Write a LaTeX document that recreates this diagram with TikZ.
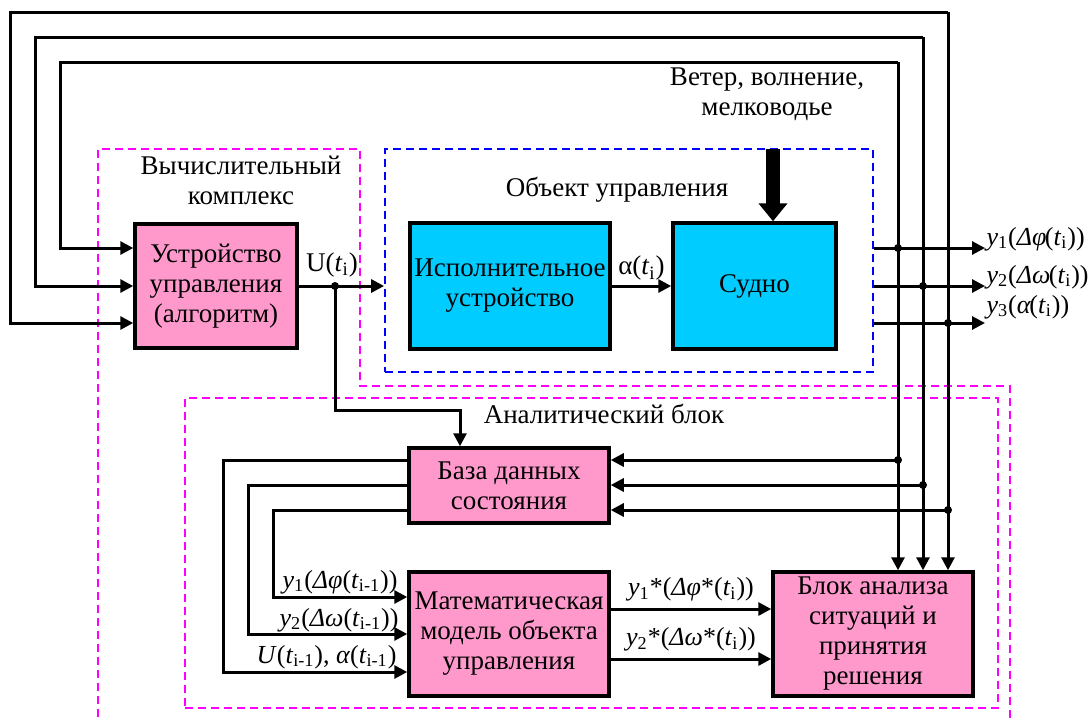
\documentclass[tikz,border=0pt]{standalone}
\usepackage{fontspec}
\setmainfont{Liberation Serif}
\usepackage{tikz}
\usetikzlibrary{arrows.meta, positioning, calc}
\definecolor{pinkblk}{HTML}{FF99CC}
\definecolor{cyanblk}{HTML}{00CCFF}
\definecolor{magfr}{HTML}{FF00FF}
\definecolor{bluefr}{HTML}{0000FF}
\newcommand{\yv}[1]{\textit{y}\textsubscript{#1}}
\newcommand{\tv}[1]{\textit{t}\textsubscript{#1}}

\begin{document}
\begin{tikzpicture}[x=0.5pt, y=-0.5pt, >={Triangle[length=6.5pt,width=6.5pt]},
  font=\fontsize{13.5}{15}\selectfont, line width=1.5pt,
  every node/.style={inner sep=1pt},
  pinkbox/.style={draw, line width=1.75pt, fill=pinkblk, align=center},
  cyanbox/.style={draw, line width=1.75pt, fill=cyanblk, align=center},
  bluefr/.style={draw=bluefr, line width=0.9pt, dash pattern=on 4pt off 2.5pt},
  magfr/.style={draw=magfr, line width=0.9pt, dash pattern=on 4pt off 2.5pt},
  siglbl/.style={font=\fontsize{13}{15}\selectfont}]
  \useasboundingbox (0,0) rectangle (1089,720);

  % frames
  \draw[magfr] (98,730) -- (98,149) -- (360,149) -- (360,386) -- (1010,386) -- (1010,730);
  \node[bluefr, minimum width=244pt, minimum height=111.5pt] (obj) at (629,260.5) {};
  \node[magfr, minimum width=406.5pt, minimum height=155pt] (ana) at (591.5,553) {};

  \node[align=center] (vklbl) at (241,180) {Вычислительный\\комплекс};
  \node (objlbl) at (617,190) {Объект управления};
  \node (analbl) at (604,414) {Аналитический блок};
  \node[align=center] (windlbl) at (767,94) {Ветер, волнение,\\мелководье};

  % blocks
  \node[pinkbox, minimum width=81pt, minimum height=62pt] (ctrl) at (216,286) {Устройство\\управления\\(алгоритм)};
  \node[cyanbox, minimum width=100pt, minimum height=63pt] (act) at (510,286) {Исполнительное\\устройство};
  \node[cyanbox, minimum width=81.5pt, minimum height=63pt] (ship) at (754.5,286) {Судно};
  \node[pinkbox, minimum width=100pt, minimum height=37.5pt] (db) at (509,485.5) {База данных\\состояния};
  \node[pinkbox, minimum width=100pt, minimum height=62pt] (model) at (509,634) {Математическая\\модель объекта\\управления};
  \node[pinkbox, minimum width=100pt, minimum height=62pt] (anl) at (873,634) {Блок анализа\\ситуаций и\\принятия\\решения};

  % disturbance
  \coordinate (w) at (773,149);
  \draw[line width=7pt, -{Triangle[length=9pt,width=14pt]}] (w) -- (w |- ship.north);

  % control signal
  \coordinate (u) at (335,286);
  \coordinate (ub) at (460,410);
  \draw[->] (ctrl.east) -- (ctrl.east -| obj.west);
  \node (ulbl) at (332,265) {U(\tv{i})};
  \draw[->] (u) |- (ub) -- (ub |- db.north);
  \draw[->] (act) -- (ship) node[midway, above=1pt] {α(\tv{i})};

  % outputs and feedback
  \coordinate (j1) at (898,248); \coordinate (j2) at (923,286); \coordinate (j3) at (948,323);
  \coordinate (t1) at (898,62);  \coordinate (t2) at (923,37);  \coordinate (t3) at (948,12);
  \coordinate (l1) at (60,248);  \coordinate (l2) at (35,286);  \coordinate (l3) at (10,323);
  \coordinate (k1) at (898,460); \coordinate (k2) at (923,485); \coordinate (k3) at (948,510);
  \coordinate (e1) at (985,248); \coordinate (e2) at (985,286); \coordinate (e3) at (985,323);
  \foreach \i in {1,2,3} {
    \draw[->] (obj.east |- j\i) -- (e\i);
    \draw[->] (t\i) -| (l\i) -- (l\i -| ctrl.west);
    \draw[->] (t\i) -- (t\i |- anl.north);
    \draw[->] (k\i) -- (k\i -| db.east);
  }
  \foreach \p in {u,j1,j2,j3,k1,k2,k3} \fill (\p) circle (2pt);
  \node[siglbl, anchor=base west, inner sep=0pt] (y1lbl) at (985,245) {\yv{1}(\textit{Δφ\kern-0.06em}(\tv{i}))};
  \node[siglbl, anchor=base west, inner sep=0pt] (y2lbl) at (985,283) {\yv{2}(\textit{Δω\kern-0.06em}(\tv{i}))};
  \node[siglbl, anchor=base west, inner sep=0pt] (y3lbl) at (985,313) {\yv{3}(\textit{α\kern-0.04em}(\tv{i}))};

  % database to model
  \coordinate (m1) at (273,597); \coordinate (m2) at (248,634); \coordinate (m3) at (223,672);
  \draw[->] ([yshift=-12.5pt]db.west) -| (m1) -- (m1 -| model.west);
  \draw[->] (db.west) -| (m2) -- (m2 -| model.west);
  \draw[->] ([yshift=12.5pt]db.west) -| (m3) -- (m3 -| model.west);
  \node[siglbl, anchor=base east] (m1lbl) at (401,588) {\yv{1}(\textit{Δφ}(\tv{i-1}))};
  \node[siglbl, anchor=base east] (m2lbl) at (402,626) {\yv{2}(\textit{Δω}(\tv{i-1}))};
  \node[siglbl, anchor=base east] (m3lbl) at (400,663) {\textit{U}(\tv{i-1}), \textit{α}(\tv{i-1})};

  % model to analysis
  \draw[->] ([yshift=12.5pt]model.east) -- ([yshift=12.5pt]anl.west)
    node[siglbl, midway, above=2pt] {\yv{1}*(\textit{Δφ}*(\tv{i}))};
  \draw[->] ([yshift=-12.5pt]model.east) -- ([yshift=-12.5pt]anl.west)
    node[siglbl, midway, above=2pt] {\yv{2}*(\textit{Δω}*(\tv{i}))};
\end{tikzpicture}
\end{document}
